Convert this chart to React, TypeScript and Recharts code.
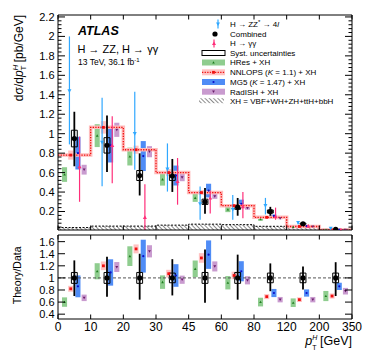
import React from 'react';
import {
  Area,
  ComposedChart,
  ErrorBar,
  Line,
  ReferenceArea,
  ReferenceLine,
  Scatter,
  XAxis,
  YAxis,
} from 'recharts';

const FONT = '"Liberation Sans", Arial, Helvetica, sans-serif';

// pT bins, drawn at equal width
const binLabels = ['0', '10', '20', '30', '45', '60', '80', '120', '200', '350'];

// measured cross sections [pb/GeV]
const combined = [0.95, 0.88, 0.57, 0.565, 0.3, 0.245, 0.2, 0.074, 0.016];
const combinedUpRel = [0.29, 0.35, 0.4, 0.31, 0.47, 0.385, 0.24, 0.19, 0.26];
const combinedDownRel = [0.3, 0.31, 0.36, 0.29, 0.41, 0.36, 0.22, 0.19, 0.3];
const systRel = [0.09, 0.09, 0.09, 0.08, 0.09, 0.09, 0.08, 0.08, 0.08];

const zzValue = [1.44, 0.91, 1.0, 0.635, 0.28, 0.22, 0.26, 0.087, 0.026];
const zzHigh = [2.0, 1.37, 1.43, 0.9, 0.456, 0.37, 0.34, 0.1, 0.035];
const zzLow = [0.89, 0.46, 0.63, 0.405, 0.115, 0.115, 0.17, 0.07, 0.015];

const yyValue = [0.66, 0.88, 0.14, 0.51, 0.34, 0.25, 0.15, 0.05, 0.012];
const yyHigh = [0.97, 1.18, 0.48, 0.75, 0.415, 0.4, 0.24, 0.065, 0.02];
const yyLow = [0.3, 0.49, 0.01, 0.27, 0.18, 0.13, 0.115, 0.035, 0.005];

// predictions
const hres = [0.58, 0.98, 0.765, 0.53, 0.34, 0.22, 0.12, 0.04, 0.011];
const nnlops = [0.78, 1.065, 0.835, 0.6, 0.395, 0.26, 0.14, 0.046, 0.011];
const mg5 = [0.8, 0.88, 0.77, 0.57, 0.415, 0.28, 0.155, 0.05, 0.013];
const radish = [0.63, 1.04, 0.815, 0.55, 0.355, 0.235, 0.13, 0.045, 0.012];
const xhContribution = [0.035, 0.05, 0.05, 0.06, 0.07, 0.065, 0.048, 0.036, 0.018];

// relative uncertainty of each prediction
const hresUnc = [0.13, 0.12, 0.12, 0.12, 0.12, 0.12, 0.12, 0.12, 0.12];
const nnlopsUnc = [0.06, 0.06, 0.05, 0.06, 0.06, 0.06, 0.06, 0.06, 0.06];
const mg5Unc = [0.21, 0.2, 0.2, 0.18, 0.17, 0.15, 0.09, 0.08, 0.07];
const radishUnc = [0.08, 0.07, 0.07, 0.07, 0.07, 0.07, 0.07, 0.07, 0.07];

// theory / data
const hresRatio = [0.6, 1.11, 1.36, 0.93, 1.15, 0.92, 0.6, 0.59, 0.7];
const nnlopsRatio = [0.82, 1.2, 1.48, 1.07, 1.33, 1.04, 0.69, 0.64, 0.7];
const mg5Ratio = [0.86, 1.09, 1.36, 1.04, 1.385, 1.11, 0.75, 0.75, 0.86];
const radishRatio = [0.67, 1.18, 1.44, 0.97, 1.19, 0.96, 0.64, 0.64, 0.78];

const upperYLabels = [0.2, 0.4, 0.6, 0.8, 1, 1.2, 1.4, 1.6, 1.8, 2, 2.2];
const lowerYLabels = [0.4, 0.6, 0.8, 1, 1.2, 1.4, 1.6];

const binTicks = binLabels.map((_, i) => i);
const upperYTicks = Array.from({ length: 55 }, (_, i) => +(0.04 * (i + 1)).toFixed(2));

const C = {
  zz: '#30a8ff',
  yy: '#ff2f7a',
  green: '#8fcd8f',
  greenMk: '#1e7d1e',
  pink: '#ffc2c2',
  red: '#f01010',
  blue: '#4f8cf6',
  blueMk: '#0b0bc8',
  purple: '#c99bcf',
  purpleMk: '#6a1c6a',
};

const OFF = { hres: 0.2, nnlops: 0.39, zz: 0.35, comb: 0.5, mg5: 0.61, yy: 0.66, radish: 0.8 };
const BOX = 0.078;
const SYST = 0.09;

const isMultiple = (v: number, step: number) => Math.abs(v / step - Math.round(v / step)) < 1e-6;
const fmt = (v: number) => String(Number(v.toFixed(2)));

function yTick(side: 'left' | 'right', step: number, majorLen: number, minorLen: number, labels: boolean) {
  return (props: any) => {
    const { x, y, payload } = props;
    const v = payload.value as number;
    const major = isMultiple(v, step);
    const dir = side === 'left' ? 1 : -1;
    const len = major ? majorLen : minorLen;
    return (
      <g>
        <line x1={x} x2={x + dir * len} y1={y} y2={y} stroke="#000" strokeWidth={1} />
        {labels && major && (
          <text x={x - 3.5} y={y} dy="0.36em" textAnchor="end" fontSize={11} fontFamily={FONT} fill="#000">
            {fmt(v)}
          </text>
        )}
      </g>
    );
  };
}

function xTick(side: 'bottom' | 'top', len: number, labels: boolean) {
  return (props: any) => {
    const { x, y, payload } = props;
    const dir = side === 'bottom' ? -1 : 1;
    return (
      <g>
        <line x1={x} x2={x} y1={y} y2={y + dir * len} stroke="#000" strokeWidth={1} />
        {labels && (
          <text x={x} y={y + 12} textAnchor="middle" fontSize={12} fontFamily={FONT} fill="#000">
            {binLabels[payload.value]}
          </text>
        )}
      </g>
    );
  };
}

const circle = (r: number, fill: string) => (p: any) => <circle cx={p.cx} cy={p.cy} r={r} fill={fill} />;
const square = (s: number, fill: string) => (p: any) => (
  <rect x={p.cx - s} y={p.cy - s} width={2 * s} height={2 * s} fill={fill} />
);
const triUp = (s: number, fill: string) => (p: any) => (
  <path d={`M${p.cx},${p.cy - s}L${p.cx + s},${p.cy + s * 0.8}L${p.cx - s},${p.cy + s * 0.8}Z`} fill={fill} />
);
const triDown = (s: number, fill: string) => (p: any) => (
  <path d={`M${p.cx},${p.cy + s}L${p.cx + s},${p.cy - s * 0.8}L${p.cx - s},${p.cy - s * 0.8}Z`} fill={fill} />
);

const steps = binLabels.map((_, i) => ({
  x: i,
  nnlo: nnlops[Math.min(i, nnlops.length - 1)],
  xh: xhContribution[Math.min(i, xhContribution.length - 1)],
}));

const points = (vals: number[], off: number) => vals.map((v, i) => ({ x: i + off, y: v }));

const theoryBoxes = (vals: number[], unc: number[], off: number, fill: string, key: string) =>
  vals.map((v, i) => (
    <ReferenceArea
      key={`${key}-${i}`}
      x1={i + off - BOX}
      x2={i + off + BOX}
      y1={v * (1 - unc[i])}
      y2={v * (1 + unc[i])}
      fill={fill}
      fillOpacity={1}
      stroke="none"
      ifOverflow="hidden"
    />
  ));

const systBoxes = (vals: number[], key: string) =>
  vals.map((v, i) => (
    <ReferenceArea
      key={`${key}-${i}`}
      x1={i + OFF.comb - SYST}
      x2={i + OFF.comb + SYST}
      y1={v * (1 - systRel[i])}
      y2={v * (1 + systRel[i])}
      fill="none"
      fillOpacity={0}
      stroke="#000"
      strokeWidth={1}
      ifOverflow="hidden"
    />
  ));

// axes have 1px of room each, so the margins below are 1px short of the frame
function axes(yDomain: [number, number], yTicks: number[], yStep: number, yMajor: number, yMinor: number, xLen: number, xLabels: boolean) {
  return [
    <XAxis key="xb" type="number" dataKey="x" domain={[0, 9]} ticks={binTicks} interval={0} height={1}
      tickSize={0} tickMargin={0} tickLine={false} axisLine={{ stroke: '#000' }} tick={xTick('bottom', xLen, xLabels)} allowDataOverflow />,
    <XAxis key="xt" xAxisId="top" orientation="top" type="number" dataKey="x" domain={[0, 9]} ticks={binTicks} interval={0} height={1}
      tickSize={0} tickMargin={0} tickLine={false} axisLine={{ stroke: '#000' }} tick={xTick('top', xLen, false)} allowDataOverflow />,
    <YAxis key="yl" type="number" dataKey="y" domain={yDomain} ticks={yTicks} interval={0} width={1}
      tickSize={0} tickMargin={0} tickLine={false} axisLine={{ stroke: '#000' }} tick={yTick('left', yStep, yMajor, yMinor, true)} allowDataOverflow />,
    <YAxis key="yr" yAxisId="right" orientation="right" type="number" dataKey="y" domain={yDomain} ticks={yTicks} interval={0} width={1}
      tickSize={0} tickMargin={0} tickLine={false} axisLine={{ stroke: '#000' }} tick={yTick('right', yStep, yMajor, yMinor, false)} allowDataOverflow />,
  ];
}

function UpperPanel() {
  const comb = combined.map((v, i) => ({ x: i + OFF.comb, y: v, err: [v * combinedDownRel[i], v * combinedUpRel[i]] }));
  const zz = zzValue.map((v, i) => ({ x: i + OFF.zz, y: v, err: [v - zzLow[i], zzHigh[i] - v] }));
  const yy = yyValue.map((v, i) => ({ x: i + OFF.yy, y: v, err: [v - yyLow[i], yyHigh[i] - v] }));
  return (
    <ComposedChart width={374} height={240} data={steps} margin={{ top: 14, right: 21, bottom: 9, left: 57 }}>
      {axes([0.01, 2.22], upperYTicks, 0.2, 7, 3.5, 4.5, false)}
      <Area type="stepAfter" dataKey="xh" fill="url(#xhHatch)" fillOpacity={1} stroke="#000" strokeWidth={1}
        strokeDasharray="2 1.5" dot={false} activeDot={false} isAnimationActive={false} />
      <Line type="stepAfter" dataKey="nnlo" stroke="#ffbcbc" strokeWidth={3.5} dot={false} activeDot={false} isAnimationActive={false} />
      <Line type="stepAfter" dataKey="nnlo" stroke={C.red} strokeWidth={1.3} strokeDasharray="1.3 1.3" dot={false} activeDot={false} isAnimationActive={false} />
      {theoryBoxes(hres, hresUnc, OFF.hres, C.green, 'hu')}
      {theoryBoxes(nnlops, nnlopsUnc, OFF.nnlops, C.pink, 'nu')}
      {theoryBoxes(mg5, mg5Unc, OFF.mg5, C.blue, 'mu')}
      {theoryBoxes(radish, radishUnc, OFF.radish, C.purple, 'ru')}
      {systBoxes(combined, 'su')}
      <Scatter data={points(hres, OFF.hres)} dataKey="y" shape={triUp(1.3, C.greenMk)} isAnimationActive={false} />
      <Scatter data={points(nnlops, OFF.nnlops)} dataKey="y" shape={square(1.4, C.red)} isAnimationActive={false} />
      <Scatter data={points(mg5, OFF.mg5)} dataKey="y" shape={circle(1.1, C.blueMk)} isAnimationActive={false} />
      <Scatter data={points(radish, OFF.radish)} dataKey="y" shape={triDown(1.4, C.purpleMk)} isAnimationActive={false} />
      <Scatter data={zz} dataKey="y" shape={triDown(2, C.zz)} isAnimationActive={false}>
        <ErrorBar dataKey="err" direction="y" width={0} stroke={C.zz} strokeWidth={1.2} />
      </Scatter>
      <Scatter data={yy} dataKey="y" shape={triUp(2, C.yy)} isAnimationActive={false}>
        <ErrorBar dataKey="err" direction="y" width={0} stroke={C.yy} strokeWidth={1.2} />
      </Scatter>
      <Scatter data={comb} dataKey="y" shape={circle(2.6, '#000')} isAnimationActive={false}>
        <ErrorBar dataKey="err" direction="y" width={0} stroke="#000" strokeWidth={1.8} />
      </Scatter>
    </ComposedChart>
  );
}

function LowerPanel() {
  const ones = combined.map(() => 1);
  const comb = ones.map((v, i) => ({ x: i + OFF.comb, y: v, err: [combinedDownRel[i], combinedUpRel[i]] }));
  return (
    <ComposedChart width={374} height={129} data={steps} margin={{ top: 4, right: 21, bottom: 39, left: 57 }}>
      {axes([0.32, 1.71], lowerYLabels, 0.2, 7, 3.5, 4.5, true)}
      <ReferenceLine y={1} stroke="#555" strokeDasharray="3 2" strokeWidth={1} />
      {theoryBoxes(hresRatio, hresUnc, OFF.hres, C.green, 'hl')}
      {theoryBoxes(nnlopsRatio, nnlopsUnc, OFF.nnlops, C.pink, 'nl')}
      {theoryBoxes(mg5Ratio, mg5Unc, OFF.mg5, C.blue, 'ml')}
      {theoryBoxes(radishRatio, radishUnc, OFF.radish, C.purple, 'rl')}
      {systBoxes(ones, 'sl')}
      <Scatter data={points(hresRatio, OFF.hres)} dataKey="y" shape={triUp(1.3, C.greenMk)} isAnimationActive={false} />
      <Scatter data={points(nnlopsRatio, OFF.nnlops)} dataKey="y" shape={square(1.4, C.red)} isAnimationActive={false} />
      <Scatter data={points(mg5Ratio, OFF.mg5)} dataKey="y" shape={circle(1.1, C.blueMk)} isAnimationActive={false} />
      <Scatter data={points(radishRatio, OFF.radish)} dataKey="y" shape={triDown(1.4, C.purpleMk)} isAnimationActive={false} />
      <Scatter data={comb} dataKey="y" shape={circle(2.6, '#000')} isAnimationActive={false}>
        <ErrorBar dataKey="err" direction="y" width={0} stroke="#000" strokeWidth={1.8} />
      </Scatter>
    </ComposedChart>
  );
}

function Legend() {
  const tx = 230;
  const fs = 8;
  const rows = [24, 34, 43.5, 53, 62.5, 72.3, 82, 91.7, 100.7];
  const t = (i: number, content: React.ReactNode) => (
    <text x={tx} y={rows[i] + 2.8} fontSize={fs} fontFamily={FONT} fill="#000">{content}</text>
  );
  const box = (i: number, fill: string) => <rect x={202} y={rows[i] - 3} width={23} height={6} fill={fill} />;
  return (
    <g>
      <line x1={218} x2={218} y1={19.5} y2={28.5} stroke={C.zz} strokeWidth={1.2} />
      {triDown(2, C.zz)({ cx: 218, cy: rows[0] })}
      {t(0, <>H → ZZ<tspan dy={-3} fontSize={6}>*</tspan><tspan dy={3}> → 4</tspan><tspan fontStyle="italic">l</tspan></>)}
      <circle cx={215} cy={rows[1]} r={2.6} fill="#000" />
      {t(1, 'Combined')}
      <line x1={214} x2={214} y1={39.5} y2={47.5} stroke={C.yy} strokeWidth={1.2} />
      {triUp(2, C.yy)({ cx: 214, cy: rows[2] })}
      {t(2, 'H → γγ')}
      <rect x={202} y={rows[3] - 2.5} width={23} height={5} fill="none" stroke="#000" strokeWidth={1} />
      {t(3, 'Syst. uncertainties')}
      {box(4, C.green)}
      {triUp(1.3, C.greenMk)({ cx: 213.5, cy: rows[4] })}
      {t(4, 'HRes + XH')}
      {box(5, C.pink)}
      <line x1={202} x2={225} y1={rows[5]} y2={rows[5]} stroke={C.red} strokeWidth={1.3} strokeDasharray="1.3 1.3" />
      {square(1.4, C.red)({ cx: 213.5, cy: rows[5] })}
      {t(5, <>NNLOPS (<tspan fontStyle="italic">K</tspan> = 1.1) + XH</>)}
      {box(6, C.blue)}
      {circle(1.1, C.blueMk)({ cx: 213.5, cy: rows[6] })}
      {t(6, <>MG5 (<tspan fontStyle="italic">K</tspan> = 1.47) + XH</>)}
      {box(7, C.purple)}
      {triDown(1.4, C.purpleMk)({ cx: 213.5, cy: rows[7] })}
      {t(7, 'RadISH + XH')}
      <rect x={199} y={rows[8] - 2.5} width={25} height={5} fill="url(#xhHatch)" />
      {t(8, 'XH = VBF+WH+ZH+ttH+bbH')}
    </g>
  );
}

function Labels() {
  return (
    <g fontFamily={FONT} fill="#000">
      <text x={78} y={35} fontSize={12.5} fontWeight="bold" fontStyle="italic">ATLAS</text>
      <text x={77.5} y={52.5} fontSize={11}>H → ZZ, H → γγ</text>
      <text x={78} y={65} fontSize={8.5}>
        13 TeV, 36.1 fb<tspan dy={-3.5} fontSize={6}>-1</tspan>
      </text>
      <text transform="translate(23,15) rotate(-90)" textAnchor="end" fontSize={12}>
        dσ/d<tspan fontStyle="italic">p</tspan>
        <tspan dy={-5} fontSize={8} fontStyle="italic">H</tspan>
        <tspan dx={-6} dy={8} fontSize={8}>T</tspan>
        <tspan dy={-3}> [pb/GeV]</tspan>
      </text>
      <text transform="translate(21,246.5) rotate(-90)" textAnchor="end" fontSize={10.5}>Theory/Data</text>
      <text x={352} y={345} textAnchor="end" fontSize={12.5}>
        <tspan fontStyle="italic">p</tspan>
        <tspan dy={-5} fontSize={7} fontStyle="italic">H</tspan>
        <tspan dx={-5} dy={9.5} fontSize={7}>T</tspan>
        <tspan dy={-4.5}> [GeV]</tspan>
      </text>
    </g>
  );
}

export default function App() {
  return (
    <div style={{ position: 'absolute', left: 0, top: 0, width: 374, height: 359, background: '#fff' }}>
      <svg width={0} height={0} style={{ position: 'absolute' }}>
        <defs>
          <pattern id="xhHatch" patternUnits="userSpaceOnUse" width={3} height={3} patternTransform="rotate(-45)">
            <line x1={0} y1={0} x2={0} y2={3} stroke="#000" strokeWidth={0.9} />
          </pattern>
        </defs>
      </svg>
      <div style={{ position: 'absolute', left: 0, top: 0 }}>
        <UpperPanel />
      </div>
      <div style={{ position: 'absolute', left: 0, top: 230 }}>
        <LowerPanel />
      </div>
      <svg width={374} height={359} style={{ position: 'absolute', left: 0, top: 0, pointerEvents: 'none' }}>
        <Legend />
        <Labels />
      </svg>
    </div>
  );
}
